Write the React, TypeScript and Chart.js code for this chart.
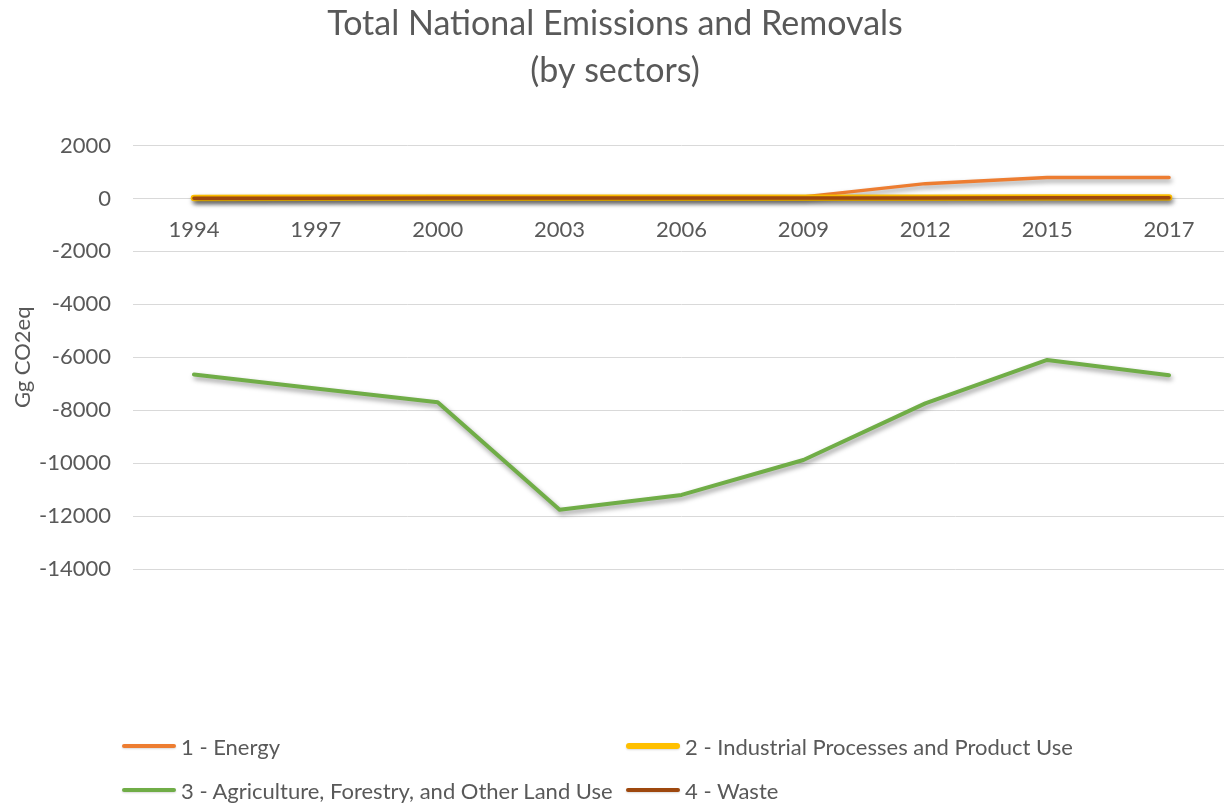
import React, { useEffect, useRef } from 'react';
import { Chart, registerables } from 'chart.js';

Chart.register(...registerables);

// ---- data ----
const years = ['1994', '1997', '2000', '2003', '2006', '2009', '2012', '2015', '2017'];
const energy = [40, 45, 50, 50, 55, 60, 560, 790, 790];
const industrial = [20, 22, 24, 25, 27, 28, 30, 32, 33];
const afolu = [-6650, -7180, -7700, -11760, -11200, -9880, -7740, -6100, -6680];
const waste = [10, 12, 14, 15, 17, 18, 20, 22, 22];

const seriesNames = [
  '1 - Energy',
  '2 - Industrial Processes and Product Use',
  '3 - Agriculture, Forestry, and Other Land Use',
  '4 - Waste',
];
const seriesColors = ['#ED7D31', '#FFC000', '#70AD47', '#9E480E'];
const seriesWidths = [3.5, 6.5, 4, 3.5];

const titleLines = ['Total National Emissions and Removals', '(by sectors)'];
const yAxisTitle = 'Gg CO2eq';
const yMin = -14000;
const yMax = 2000;
const yStep = 2000;

const FONT = 'Lato, "Liberation Sans", sans-serif';
const TEXT = '#595959';
const GRID = '#D9D9D9';

const shadowPlugin = {
  id: 'lineShadow',
  beforeDatasetDraw(chart: any) {
    const ctx = chart.ctx;
    ctx.save();
    ctx.shadowColor = 'rgba(0,0,0,0.4)';
    ctx.shadowBlur = 5;
    ctx.shadowOffsetX = 1.5;
    ctx.shadowOffsetY = 3;
  },
  afterDatasetDraw(chart: any) {
    chart.ctx.restore();
  },
};

export default function App() {
  const canvasRef = useRef<HTMLCanvasElement | null>(null);

  useEffect(() => {
    if (!canvasRef.current) return;
    const values = [energy, industrial, afolu, waste];
    const chart = new Chart(canvasRef.current, {
      type: 'line',
      data: {
        labels: years,
        datasets: values.map((v, i) => ({
          label: seriesNames[i],
          data: v,
          borderColor: seriesColors[i],
          backgroundColor: seriesColors[i],
          borderWidth: seriesWidths[i],
          pointRadius: 0,
          pointHoverRadius: 0,
          tension: 0,
          fill: false,
          borderCapStyle: 'round',
          borderJoinStyle: 'round',
          order: 4 - i,
        })),
      },
      options: {
        responsive: false,
        animation: false,
        devicePixelRatio: 1,
        layout: { padding: { left: 0, right: 0, top: 0, bottom: 237 } },
        plugins: {
          legend: { display: false },
          tooltip: { enabled: false },
          title: {
            display: true,
            text: titleLines,
            color: TEXT,
            font: { family: FONT, size: 34, weight: 'normal', lineHeight: 1.39 },
            padding: { top: 0, bottom: 51 },
          },
        },
        scales: {
          x: {
            type: 'category',
            position: { y: 0 },
            offset: true,
            grid: { display: false, drawTicks: false },
            border: { display: true, color: GRID, width: 1 },
            ticks: {
              color: TEXT,
              font: { family: FONT, size: 22 },
              padding: 18,
              maxRotation: 0,
              autoSkip: false,
            },
            afterFit(scale: any) {
              scale.height = 0;
            },
          },
          y: {
            type: 'linear',
            min: yMin,
            max: yMax,
            grid: { color: GRID, lineWidth: 1, drawTicks: false },
            border: { display: false },
            ticks: {
              stepSize: yStep,
              color: TEXT,
              font: { family: FONT, size: 22 },
              padding: 22,
              callback: (value: any) => String(value),
            },
            title: {
              display: true,
              text: yAxisTitle,
              color: TEXT,
              font: { family: FONT, size: 22 },
              padding: { top: 10, bottom: 0 },
            },
            afterFit(scale: any) {
              scale.width = 133;
            },
          },
        },
      },
      plugins: [shadowPlugin],
    });
    return () => chart.destroy();
  }, []);

  const legendPos = [
    { left: 122, top: 746 },
    { left: 626, top: 746 },
    { left: 122, top: 790 },
    { left: 626, top: 790 },
  ];

  return (
    <div
      style={{
        position: 'fixed',
        left: 0,
        top: 0,
        width: 1224,
        height: 806,
        overflow: 'hidden',
        background: '#ffffff',
      }}
    >
      <canvas ref={canvasRef} width={1230} height={806} style={{ display: 'block', width: 1230, height: 806 }} />
      {seriesNames.map((name, i) => (
        <div
          key={name}
          style={{
            position: 'absolute',
            left: legendPos[i].left,
            top: legendPos[i].top - 15,
            height: 30,
            display: 'flex',
            alignItems: 'center',
            fontFamily: FONT,
            fontSize: 22,
            color: TEXT,
            whiteSpace: 'nowrap',
          }}
        >
          <span
            style={{
              display: 'inline-block',
              width: 54,
              height: seriesWidths[i],
              borderRadius: 3,
              background: seriesColors[i],
              marginRight: 5,
              boxShadow: '0 1px 2px rgba(0,0,0,0.15)',
            }}
          />
          <span>{name}</span>
        </div>
      ))}
    </div>
  );
}
